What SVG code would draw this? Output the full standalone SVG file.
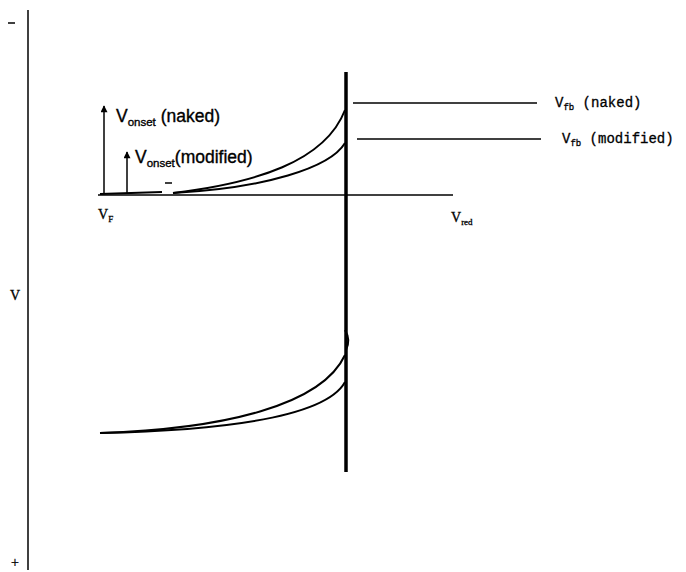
<svg xmlns="http://www.w3.org/2000/svg" width="686" height="572" viewBox="0 0 686 572">
<defs>
<style>
.ln{stroke:#000;fill:none;stroke-width:1.5}
.crv{stroke:#000;fill:none;stroke-width:2}
.thick{stroke:#000;stroke-width:3.5;fill:none}
.sans{font-family:"Liberation Sans",Arial,sans-serif;font-size:17.5px;fill:#000;stroke:#000;stroke-width:0.35}
.sub{font-size:11.5px}
.mono{font-family:"Liberation Mono","Courier New",monospace;font-size:14px;fill:#000;stroke:#000;stroke-width:0.3}
.monosub{font-size:9px}
.serif{font-family:"Liberation Serif","Times New Roman",serif;font-size:14px;fill:#000;stroke:#000;stroke-width:0.3}
.serifsub{font-size:9px}
</style>
<marker id="ah" viewBox="0 0 10 10" refX="9" refY="5" markerWidth="8" markerHeight="7" orient="auto" markerUnits="userSpaceOnUse">
<path d="M0,0 L10,5 L0,10 z" fill="#000"/>
</marker>
</defs>
<rect width="686" height="572" fill="#fff"/>
<g id="axis">
<line class="ln" x1="28" y1="10" x2="28" y2="570"/>
<line class="ln" x1="8" y1="23" x2="15" y2="23"/>
<text class="serif" x="10" y="300">V</text>
<text class="serif" x="11" y="567">+</text>
</g>
<g id="electrode">
<line class="thick" x1="346" y1="72" x2="346" y2="472"/>
<path d="M345,330 Q351,340 346,350" class="crv" stroke-width="2.5"/>
</g>
<g id="fermi-level">
<line class="ln" x1="98" y1="195" x2="453" y2="195"/>
<text class="serif" x="98" y="219">V<tspan class="serifsub" dy="3">F</tspan></text>
<text class="serif" x="451" y="222">V<tspan class="serifsub" dy="3">red</tspan></text>
</g>
<g id="upper-curves">
<path class="crv" d="M100,194 L162,192"/>
<line class="ln" x1="165" y1="183" x2="172" y2="183"/>
<path class="crv" d="M173,193 C255,183 325,162 345,110"/>
<path class="crv" d="M173,193 C265,188 330,168 345,143"/>
</g>
<g id="onset-naked">
<line class="ln" x1="104" y1="193" x2="104" y2="106" marker-end="url(#ah)"/>
<text class="sans" x="116" y="122">V<tspan class="sub" dy="4">onset</tspan><tspan dy="-4"> (naked)</tspan></text>
</g>
<g id="onset-modified">
<line class="ln" x1="127" y1="193" x2="127" y2="152" marker-end="url(#ah)"/>
<text class="sans" x="135" y="163">V<tspan class="sub" dy="4">onset</tspan><tspan dy="-4">(modified)</tspan></text>
</g>
<g id="vfb-naked">
<line class="ln" x1="353" y1="103" x2="537" y2="103"/>
<text class="mono" x="555" y="107">V<tspan class="monosub" dy="3">fb</tspan><tspan dy="-3"> (naked)</tspan></text>
</g>
<g id="vfb-modified">
<line class="ln" x1="357" y1="139" x2="541" y2="139"/>
<text class="mono" x="562" y="143">V<tspan class="monosub" dy="3">fb</tspan><tspan dy="-3"> (modified)</tspan></text>
</g>
<g id="lower-curves">
<path class="crv" d="M100,433 C225,429 322,405 345,355"/>
<path class="crv" d="M100,433 C235,430 327,415 345,382"/>
</g>
</svg>
